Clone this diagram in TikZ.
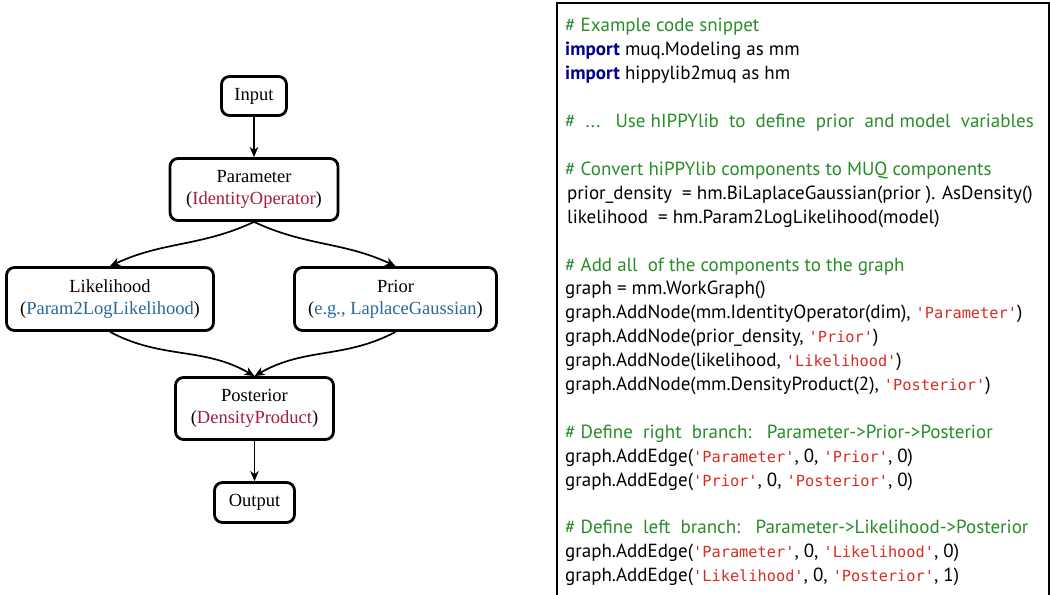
\documentclass[tikz,border=0pt]{standalone}
\usepackage{fontspec}
\setmainfont{Liberation Serif}
\newfontfamily\codesans{PT Sans}
\newfontfamily\codemono{DejaVu Sans Mono}
\usetikzlibrary{arrows.meta}
\definecolor{comgreen}{RGB}{40,140,40}
\definecolor{kwblue}{RGB}{0,0,140}
\definecolor{strred}{RGB}{215,45,35}
\definecolor{crim}{RGB}{165,28,60}
\definecolor{tblue}{RGB}{35,105,155}
\newcommand\cfnt{\fontsize{19}{24}\selectfont\codesans}
\newcommand\com[1]{\textcolor{comgreen}{#1}}
\newcommand\kw[1]{\textcolor{kwblue}{\bfseries #1}}
\newcommand\sq{\char"27\relax}
\newcommand\str[1]{\textcolor{strred}{\fontsize{15.3}{24}\selectfont\codemono\sq#1\sq}}
\tikzset{
  gbox/.style={draw, line width=2.8pt, rounded corners=8pt, align=center,
    font=\fontsize{18.5}{22}\selectfont, inner sep=2pt},
  garrow/.style={line width=1.7pt, -{Stealth[length=10pt,width=8.5pt,inset=3pt]}},
  codeline/.style={anchor=base west, inner sep=0pt, font=\cfnt},
}
\begin{document}
\begin{tikzpicture}[x=1pt,y=-1pt]
\useasboundingbox (0,0) rectangle (1051,594);
% graph
\node[gbox, minimum width=65pt, minimum height=39pt] (in) at (254,96) {Input};
\node[gbox, minimum width=168pt, minimum height=62pt] (par) at (254,189.5) {Parameter\\(\textcolor{crim}{IdentityOperator})};
\node[gbox, minimum width=207pt, minimum height=63pt] (lik) at (110,299) {Likelihood\\(\textcolor{tblue}{Param2LogLikelihood})};
\node[gbox, minimum width=202pt, minimum height=63pt] (pri) at (395.5,299) {Prior\\(\textcolor{tblue}{e.g., LaplaceGaussian})};
\node[gbox, minimum width=158pt, minimum height=62pt] (post) at (254.5,408.5) {Posterior\\(\textcolor{crim}{DensityProduct})};
\node[gbox, minimum width=80pt, minimum height=40pt] (out) at (254.5,502.5) {Output};
\draw[garrow] (in) -- (par);
\draw[garrow] (par.south) to[out=-155,in=25] (lik.north);
\draw[garrow] (par.south) to[out=-25,in=155] (pri.north);
\draw[garrow] (lik.south) to[out=-28,in=150] (post.north);
\draw[garrow] (pri.south) to[out=-152,in=30] (post.north);
\draw[garrow] (post) -- (out);
% code box
\draw[line width=2pt] (557,600) -- (557,3) -- (1049,3) -- (1049,600);
\node[codeline] (c1) at (565,32) {\com{\# Example code snippet}};
\node[codeline] (c2) at (565,55.9) {\kw{import} muq.Modeling as mm};
\node[codeline] (c3) at (565,79.8) {\kw{import} hippylib2muq as hm};
\node[codeline] (c5) at (565,127.6) {\com{\#\ \ ...\ \ \ Use hIPPYlib\ \ to\ \ define\ \ prior\ \ and model\ \ variables}};
\node[codeline] (c7) at (565,175.4) {\com{\# Convert hiPPYlib components to MUQ components}};
\node[codeline] (c8) at (567,199.3) {prior\_density\ \ = hm.BiLaplaceGaussian(prior ). AsDensity()};
\node[codeline] (c9) at (567,223.2) {likelihood\ \ = hm.Param2LogLikelihood(model)};
\node[codeline] (c11) at (565,271) {\com{\# Add all\ \ of the components to the graph}};
\node[codeline] (c12) at (565,294.9) {graph = mm.WorkGraph()};
\node[codeline] (c13) at (565,318.8) {graph.AddNode(mm.IdentityOperator(dim), \str{Parameter})};
\node[codeline] (c14) at (565,342.7) {graph.AddNode(prior\_density, \str{Prior})};
\node[codeline] (c15) at (565,366.6) {graph.AddNode(likelihood, \str{Likelihood})};
\node[codeline] (c16) at (565,390.5) {graph.AddNode(mm.DensityProduct(2), \str{Posterior})};
\node[codeline] (c18) at (565,438.3) {\com{\# Define\ \ right\ \ branch:\ \ \ Parameter->Prior->Posterior}};
\node[codeline] (c19) at (565,462.2) {graph.AddEdge(\str{Parameter}, 0, \str{Prior}, 0)};
\node[codeline] (c20) at (565,486.1) {graph.AddEdge(\str{Prior}, 0, \str{Posterior}, 0)};
\node[codeline] (c22) at (565,533.9) {\com{\# Define\ \ left\ \ branch:\ \ \ Parameter->Likelihood->Posterior}};
\node[codeline] (c23) at (565,557.8) {graph.AddEdge(\str{Parameter}, 0, \str{Likelihood}, 0)};
\node[codeline] (c24) at (565,581.7) {graph.AddEdge(\str{Likelihood}, 0, \str{Posterior}, 1)};
\end{tikzpicture}
\end{document}
